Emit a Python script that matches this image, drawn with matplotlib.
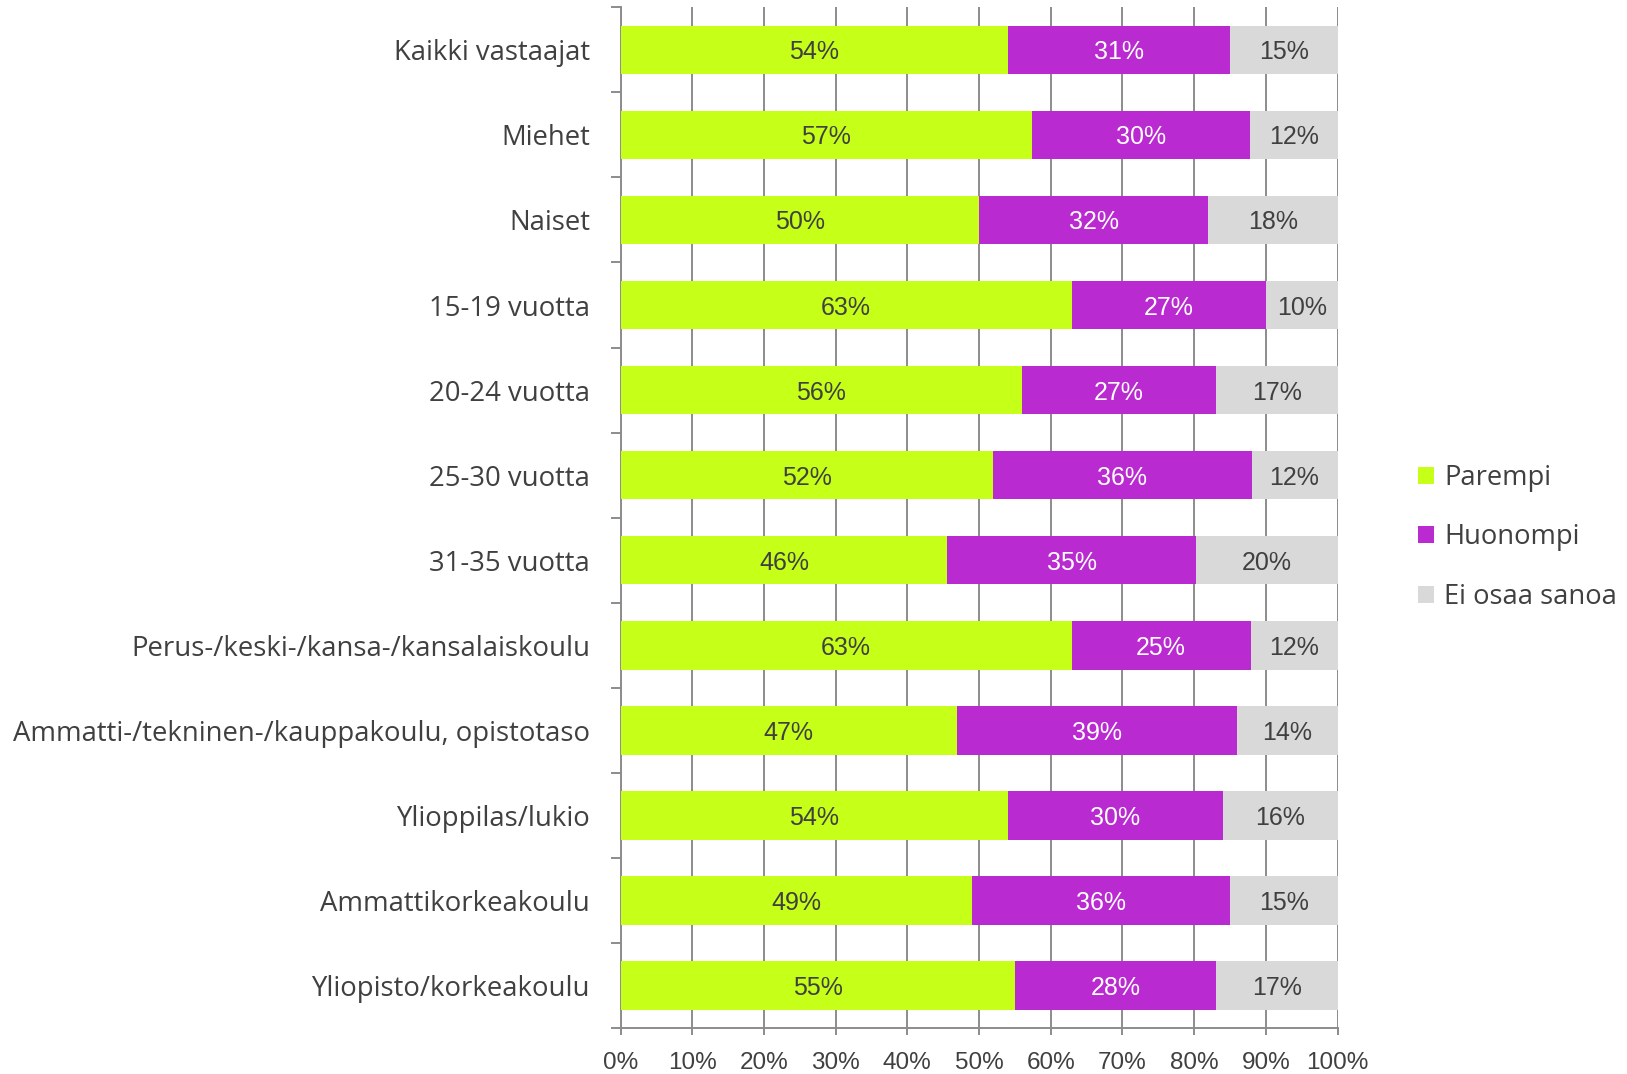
import matplotlib
matplotlib.use('Agg')
import matplotlib.pyplot as plt
from matplotlib.patches import Patch
import numpy as np

# data
categories = ['Kaikki vastaajat', 'Miehet', 'Naiset', '15-19 vuotta', '20-24 vuotta',
              '25-30 vuotta', '31-35 vuotta', 'Perus-/keski-/kansa-/kansalaiskoulu',
              'Ammatti-/tekninen-/kauppakoulu, opistotaso', 'Ylioppilas/lukio',
              'Ammattikorkeakoulu', 'Yliopisto/korkeakoulu']
parempi = [54.0, 57.4, 50.0, 62.9, 56.0, 52.0, 45.6, 62.9, 46.9, 54.0, 49.0, 55.0]
huonompi = [31.0, 30.4, 32.0, 27.1, 27.0, 36.0, 34.6, 25.0, 39.1, 30.0, 36.0, 28.0]
ei_osaa = [15.0, 12.2, 18.0, 10.0, 17.0, 12.0, 19.8, 12.1, 14.0, 16.0, 15.0, 17.0]
series_names = ['Parempi', 'Huonompi', 'Ei osaa sanoa']
xticks = [0, 10, 20, 30, 40, 50, 60, 70, 80, 90, 100]

colors = ['#C6FF18', '#B92BD0', '#D9D9D9']
text_colors = ['#404040', '#FFFFFF', '#404040']
label_font = 'Open Sans'
num_font = 'Liberation Sans'
grey = '#8C8C8C'

fig = plt.figure(figsize=(16.27, 10.74), dpi=100)
ax = fig.add_axes([0.3814, 0.0428, 0.4407, 0.9504])

y = np.arange(len(categories))
left = np.zeros(len(categories))
for vals, col, tcol in zip([parempi, huonompi, ei_osaa], colors, text_colors):
    vals = np.array(vals)
    ax.barh(y, vals, left=left, height=0.57, color=col, zorder=3)
    for yi, l, v in zip(y, left, vals):
        ax.text(l + v / 2, yi, '%d%%' % round(v), ha='center', va='center_baseline',
                color=tcol, fontsize=18, family=num_font, zorder=4)
    left = left + vals

ax.set_xlim(0, 100)
ax.set_ylim(len(categories) - 0.5, -0.5)
ax.set_xticks(xticks)
ax.set_xticklabels(['%d%%' % t for t in xticks], family=num_font, fontsize=17.5, color='#404040')
ax.xaxis.grid(True, color=grey, linewidth=1.4, zorder=0)
ax.set_axisbelow(True)

ax.set_yticks(y)
ax.set_yticklabels(categories, family=label_font, fontsize=19.8, color='#404040')
ax.set_yticks(np.arange(-0.5, len(categories)), minor=True)
ax.tick_params(axis='y', which='major', length=0, pad=22)
ax.tick_params(axis='y', which='minor', length=7, width=1.4, color=grey)
ax.tick_params(axis='x', length=5, width=1.4, color=grey, pad=12)

for s in ['top', 'right']:
    ax.spines[s].set_visible(False)
for s in ['left', 'bottom']:
    ax.spines[s].set_color(grey)
    ax.spines[s].set_linewidth(1.4)

handles = [Patch(facecolor=c, edgecolor='none') for c in colors]
leg = fig.legend(handles, series_names, loc='upper left', bbox_to_anchor=(0.8715, 0.568),
                 frameon=False, prop={'family': label_font, 'size': 19.7},
                 handlelength=0.6, handleheight=0.6, handletextpad=0.35,
                 labelspacing=1.15, borderpad=0, borderaxespad=0)
for t in leg.get_texts():
    t.set_color('#404040')

plt.savefig('out.png', dpi=100, facecolor='white')
